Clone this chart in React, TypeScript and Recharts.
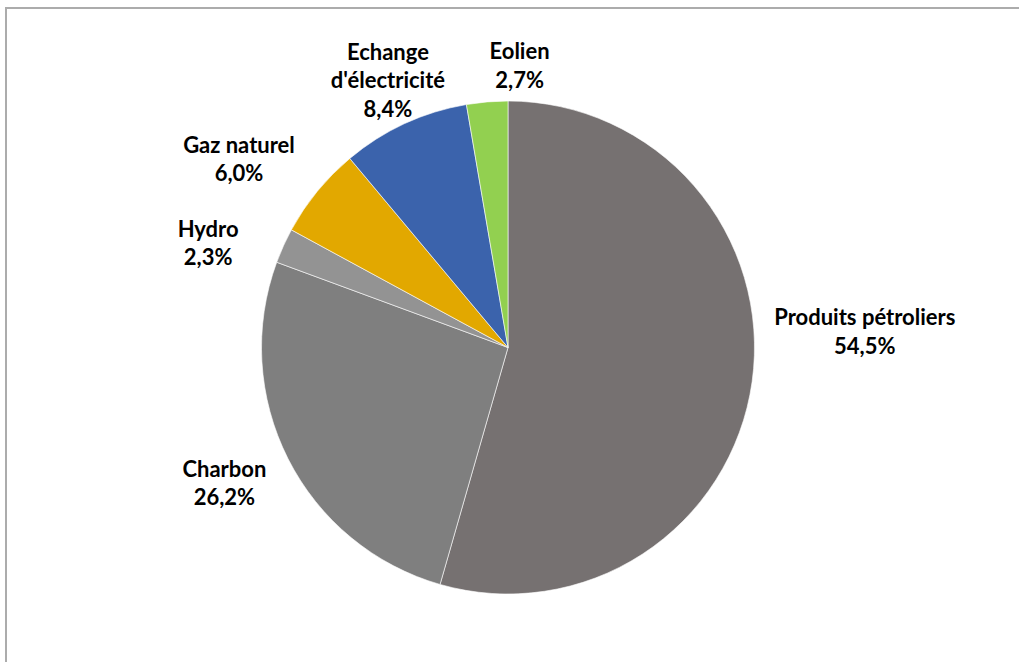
import { Cell, Pie, PieChart } from "recharts";

const NAMES = [
  "Produits pétroliers",
  "Charbon",
  "Hydro",
  "Gaz naturel",
  "Echange\nd'électricité",
  "Eolien",
];
const SHARES = [54.5, 26.2, 2.3, 6.0, 8.4, 2.7];

const COLORS = ["#767171", "#7f7f7f", "#939393", "#e2a800", "#3b63ac", "#92d050"];
// label placement nudges relative to a point just outside the rim (Excel "best fit" look)
const LABEL_NUDGE = [
  [83, -54],
  [-37, 11],
  [-48, 10],
  [-55, -13],
  [-4, -16],
  [35, -6],
];

const W = 1019;
const H = 662;
const MARGIN = 5;
const CX = 508 - MARGIN;
const CY = 347.5 - MARGIN;
const R = 246.5;
const FONT = "Lato, 'Open Sans', sans-serif";
const LINE_H = 28.5;
const CAP = 15;
const RADIAN = Math.PI / 180;

const data = NAMES.map((name, i) => ({ name, value: SHARES[i] }));

function renderLabel(props: any) {
  const { cx, cy, midAngle, outerRadius, index } = props;
  const dist = outerRadius + 30;
  const ax = cx + dist * Math.cos(-midAngle * RADIAN);
  const ay = cy + dist * Math.sin(-midAngle * RADIAN);
  const [dx, dy] = LABEL_NUDGE[index];
  const x = ax + dx;
  const yc = ay + dy;
  const lines = [
    ...NAMES[index].split("\n"),
    SHARES[index].toFixed(1).replace(".", ",") + "%",
  ];
  const y0 = yc - ((lines.length - 1) * LINE_H) / 2 + CAP / 2;
  return (
    <text
      key={`lbl-${index}`}
      x={x}
      y={y0}
      textAnchor="middle"
      fill="#000"
      fontFamily={FONT}
      fontWeight={700}
      fontSize={22}
    >
      {lines.map((t, k) => (
        <tspan key={k} x={x} y={y0 + k * LINE_H}>
          {t}
        </tspan>
      ))}
    </text>
  );
}

export default function App() {
  return (
    <div
      style={{
        position: "absolute",
        left: 0,
        top: 0,
        width: W,
        height: H,
        overflow: "hidden",
        background: "#fff",
      }}
    >
      <div
        style={{
          position: "absolute",
          left: 5,
          top: 7,
          width: W + 20,
          height: H + 20,
          borderLeft: "2px solid #acacac",
          borderTop: "2px solid #acacac",
        }}
      />
      <div style={{ position: "absolute", left: 0, top: 0 }}>
        <PieChart
          width={W}
          height={H}
          margin={{ top: MARGIN, right: MARGIN, bottom: MARGIN, left: MARGIN }}
        >
          <Pie
            data={data}
            dataKey="value"
            nameKey="name"
            cx={CX}
            cy={CY}
            outerRadius={R}
            startAngle={90}
            endAngle={-270}
            stroke="#ffffff"
            strokeWidth={0.6}
            label={renderLabel}
            labelLine={false}
            isAnimationActive={false}
          >
            {data.map((d, i) => (
              <Cell key={d.name} fill={COLORS[i]} />
            ))}
          </Pie>
        </PieChart>
      </div>
    </div>
  );
}
